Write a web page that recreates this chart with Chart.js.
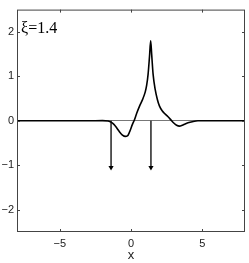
<!DOCTYPE html>
<html>
<head>
<meta charset="utf-8">
<script src="https://cdn.jsdelivr.net/npm/chart.js@4"></script>
<style>
  html, body { margin: 0; padding: 0; background: #fff; }
  #wrap { width: 249px; height: 263px; }
</style>
</head>
<body>
<div id="wrap"><canvas id="c" width="249" height="263"></canvas></div>
<script>
/* ── Data ─────────────────────────────────────────── */
const xs = [-8, -3, -2, -1.6, -1.4, -1.2, -1.0, -0.8, -0.6, -0.4, -0.25, -0.1, 0.1, 0.25, 0.4, 0.6, 0.8, 1.0, 1.1, 1.2, 1.3, 1.38,
            1.45, 1.55, 1.7, 1.85, 2.0, 2.2, 2.4, 2.6, 2.8, 3.0, 3.2, 3.4, 3.6, 3.8, 4.0, 4.3, 4.7, 8];
const ys = [0, 0, 0.005, -0.005, -0.03, -0.08, -0.16, -0.25, -0.32, -0.35, -0.34, -0.25, -0.08, 0.03, 0.17, 0.33, 0.47, 0.65, 0.8, 1.05, 1.45, 1.8,
            1.5, 1.05, 0.7, 0.48, 0.33, 0.22, 0.15, 0.09, 0.02, -0.05, -0.1, -0.12, -0.1, -0.07, -0.045, -0.02, 0, 0];
const arrowX = [-1.4, 1.4];
const arrowTip = -1.05;
const xTicks = [-5, 0, 5];
const yTicks = [-2, -1, 0, 1, 2];
const label = 'ξ=1.4';

/* ── Box + inside ticks + label ──────────────────── */
const framePlugin = {
  id: 'frame',
  afterDraw(chart) {
    const { ctx, chartArea: a, scales: { x, y } } = chart;
    ctx.save();
    ctx.strokeStyle = '#444';
    ctx.lineWidth = 1;
    ctx.strokeRect(a.left + 0.5, a.top + 0.5, a.right - a.left - 1, a.bottom - a.top - 1);
    ctx.beginPath();
    xTicks.forEach(v => {
      const px = Math.round(x.getPixelForValue(v)) + 0.5;
      ctx.moveTo(px, a.bottom); ctx.lineTo(px, a.bottom - 3);
      ctx.moveTo(px, a.top); ctx.lineTo(px, a.top + 3);
    });
    yTicks.forEach(v => {
      const py = Math.round(y.getPixelForValue(v)) + 0.5;
      ctx.moveTo(a.left, py); ctx.lineTo(a.left + 3, py);
      ctx.moveTo(a.right, py); ctx.lineTo(a.right - 3, py);
    });
    ctx.stroke();
    ctx.fillStyle = '#000';
    ctx.font = '16px "Liberation Serif", serif';
    ctx.textBaseline = 'alphabetic';
    ctx.fillText(label, a.left + 4, a.top + 23);
    ctx.restore();
  }
};

const minus = v => String(v).replace('-', '−');

new Chart(document.getElementById('c'), {
  type: 'scatter',
  data: {
    datasets: [
      {
        data: xs.map((v, i) => ({ x: v, y: ys[i] })),
        showLine: true,
        borderColor: '#000',
        borderWidth: 1.6,
        pointRadius: 0,
        cubicInterpolationMode: 'monotone',
      },
      ...arrowX.map(ax => ({
        data: [{ x: ax, y: 0 }, { x: ax, y: arrowTip }],
        showLine: true,
        borderColor: '#000',
        borderWidth: 1.3,
        pointStyle: 'triangle',
        pointRotation: 180,
        pointRadius: [0, 3],
        pointBackgroundColor: '#000',
        pointBorderColor: '#000',
        pointBorderWidth: 0,
      }))
    ]
  },
  options: {
    responsive: false,
    animation: false,
    layout: { padding: { top: 1, right: 2, left: 0, bottom: 0 } },
    plugins: { legend: { display: false }, tooltip: { enabled: false } },
    scales: {
      x: {
        min: -8, max: 8,
        afterFit: s => { s.height = 31; },
        afterBuildTicks: s => { s.ticks = xTicks.map(v => ({ value: v })); },
        grid: { display: false, drawTicks: false },
        border: { display: false },
        ticks: {
          padding: 5, color: '#222', maxRotation: 0,
          font: { family: 'Liberation Sans', size: 11 },
          callback: v => minus(v),
        },
        title: {
          display: true, text: 'x', color: '#222',
          font: { family: 'Liberation Sans', size: 13 },
          padding: { top: 0, bottom: 0 },
        },
      },
      y: {
        min: -2.5, max: 2.5,
        afterFit: s => { s.width = 17; },
        afterBuildTicks: s => { s.ticks = yTicks.map(v => ({ value: v })); },
        grid: {
          drawTicks: false,
          color: c => (c.tick && c.tick.value === 0 ? '#777' : 'rgba(0,0,0,0)'),
          lineWidth: 1,
        },
        border: { display: false },
        ticks: {
          padding: 3, color: '#222',
          font: { family: 'Liberation Sans', size: 11 },
          callback: v => minus(v),
        },
      }
    }
  },
  plugins: [framePlugin]
});
</script>
</body>
</html>
